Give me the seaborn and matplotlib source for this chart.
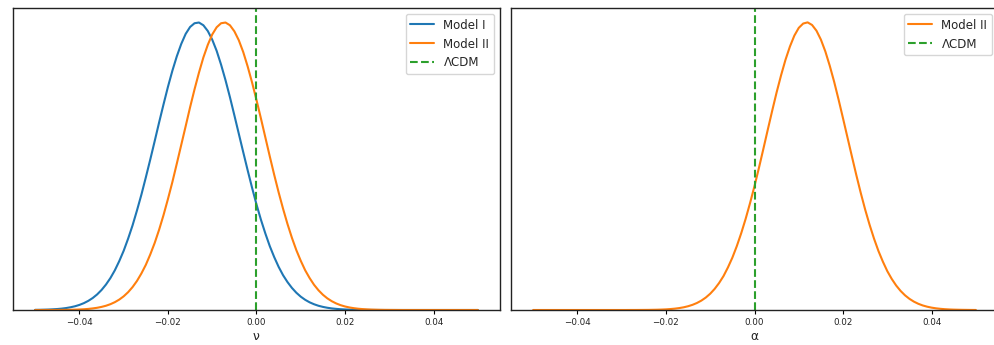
import numpy as np
import matplotlib
matplotlib.use("Agg")
import matplotlib.pyplot as plt
import seaborn as sns

# sampling grid of the parameter (nu on left panel, alpha on right panel)
grid = np.round(np.linspace(-0.05, 0.05, 101), 4)

# normalised marginal posteriors (peak = 1)
nu_model1 = [
    0.0005, 0.0007, 0.0011, 0.0016, 0.0024, 0.0034, 0.0048, 0.0068, 0.0095, 0.0130,
    0.0177, 0.0238, 0.0317, 0.0416, 0.0541, 0.0696, 0.0885, 0.111, 0.138, 0.170,
    0.206, 0.248, 0.294, 0.346, 0.401, 0.461, 0.523, 0.587, 0.652, 0.715,
    0.776, 0.832, 0.882, 0.925, 0.960, 0.984, 0.997, 0.9995, 0.990, 0.970,
    0.940, 0.901, 0.853, 0.799, 0.740, 0.677, 0.613, 0.549, 0.486, 0.425,
    0.367, 0.314, 0.266, 0.222, 0.184, 0.150, 0.121, 0.0971, 0.0768, 0.0600,
    0.0463, 0.0354, 0.0267, 0.0200, 0.0147, 0.0108, 0.0078, 0.0055, 0.0039, 0.0027,
    0.0019, 0.0013, 0.0009, 0.0006, 0.0004, 0.0003, 0.0002, 0.0001, 0.0001, 0.0,
    0.0, 0.0, 0.0, 0.0, 0.0, 0.0, 0.0, 0.0, 0.0, 0.0,
    0.0, 0.0, 0.0, 0.0, 0.0, 0.0, 0.0, 0.0, 0.0, 0.0,
    0.0,
]
nu_model2 = [
    0.0, 0.0, 0.0001, 0.0001, 0.0001, 0.0002, 0.0004, 0.0005, 0.0008, 0.0012,
    0.0018, 0.0026, 0.0038, 0.0055, 0.0077, 0.0108, 0.0148, 0.0202, 0.0272, 0.0362,
    0.0476, 0.0619, 0.0796, 0.101, 0.127, 0.157, 0.193, 0.233, 0.279, 0.330,
    0.386, 0.445, 0.509, 0.574, 0.639, 0.705, 0.767, 0.825, 0.878, 0.922,
    0.958, 0.983, 0.997, 0.9995, 0.990, 0.969, 0.938, 0.897, 0.847, 0.791,
    0.730, 0.666, 0.600, 0.534, 0.470, 0.409, 0.352, 0.299, 0.251, 0.208,
    0.171, 0.138, 0.111, 0.0876, 0.0686, 0.0530, 0.0405, 0.0306, 0.0228, 0.0168,
    0.0122, 0.0088, 0.0063, 0.0044, 0.0031, 0.0021, 0.0014, 0.0010, 0.0006, 0.0004,
    0.0003, 0.0002, 0.0001, 0.0, 0.0, 0.0, 0.0, 0.0, 0.0, 0.0,
    0.0, 0.0, 0.0, 0.0, 0.0, 0.0, 0.0, 0.0, 0.0, 0.0,
    0.0,
]
alpha_model2 = [
    0.0, 0.0, 0.0, 0.0, 0.0, 0.0, 0.0, 0.0, 0.0, 0.0,
    0.0, 0.0, 0.0, 0.0, 0.0, 0.0, 0.0, 0.0, 0.0, 0.0,
    0.0, 0.0, 0.0001, 0.0001, 0.0002, 0.0003, 0.0004, 0.0007, 0.0010, 0.0015,
    0.0022, 0.0033, 0.0047, 0.0067, 0.0094, 0.0131, 0.0180, 0.0244, 0.0327, 0.0433,
    0.0567, 0.0734, 0.0938, 0.118, 0.148, 0.182, 0.222, 0.267, 0.317, 0.372,
    0.431, 0.494, 0.560, 0.627, 0.693, 0.757, 0.816, 0.870, 0.916, 0.954,
    0.981, 0.996, 1.000, 0.991, 0.971, 0.940, 0.899, 0.849, 0.793, 0.731,
    0.666, 0.600, 0.534, 0.469, 0.407, 0.349, 0.296, 0.248, 0.205, 0.168,
    0.135, 0.108, 0.0851, 0.0663, 0.0510, 0.0388, 0.0291, 0.0216, 0.0158, 0.0115,
    0.0082, 0.0058, 0.0041, 0.0028, 0.0019, 0.0013, 0.0009, 0.0006, 0.0004, 0.0002,
    0.0001,
]

lcdm_value = 0.0
xticks = [-0.04, -0.02, 0.00, 0.02, 0.04]
xticklabels = ["\u22120.04", "\u22120.02", "0.00", "0.02", "0.04"]

sns.set_style("ticks")
plt.rcParams["font.family"] = ["DejaVu Sans"]

fig = plt.figure(figsize=(9.95, 3.45), dpi=100)
W, H = 995.0, 345.0
ax1 = fig.add_axes([13 / W, 35 / H, 487 / W, 302 / H])
ax2 = fig.add_axes([511 / W, 35 / H, 487 / W, 302 / H])

blue, orange, green = "#1f77b4", "#ff7f0e", "#2ca02c"

sns.lineplot(x=grid, y=nu_model1, ax=ax1, color=blue, lw=1.5, label="Model I")
sns.lineplot(x=grid, y=nu_model2, ax=ax1, color=orange, lw=1.5, label="Model II")
ax1.axvline(lcdm_value, color=green, ls="--", lw=1.5, label="\u039bCDM")

sns.lineplot(x=grid, y=alpha_model2, ax=ax2, color=orange, lw=1.5, label="Model II")
ax2.axvline(lcdm_value, color=green, ls="--", lw=1.5, label="\u039bCDM")

for ax, lab in ((ax1, "\u03bd"), (ax2, "\u03b1")):
    ax.set_xlim(-0.055, 0.055)
    ax.set_ylim(0, 1.05)
    ax.set_yticks([])
    ax.set_ylabel("")
    ax.set_xticks(xticks)
    ax.set_xticklabels(xticklabels, fontsize=6.3)
    ax.tick_params(axis="x", length=3, width=0.8, pad=2.5, colors="black", labelcolor="#222222")
    ax.set_xlabel(lab, fontsize=8.8, color="#222222", labelpad=2.5)
    for s in ax.spines.values():
        s.set_visible(True)
        s.set_color("#222222")
        s.set_linewidth(1.0)
    ax.legend(loc="upper right", fontsize=8.5, frameon=True)

fig.savefig("out.png", dpi=100)
